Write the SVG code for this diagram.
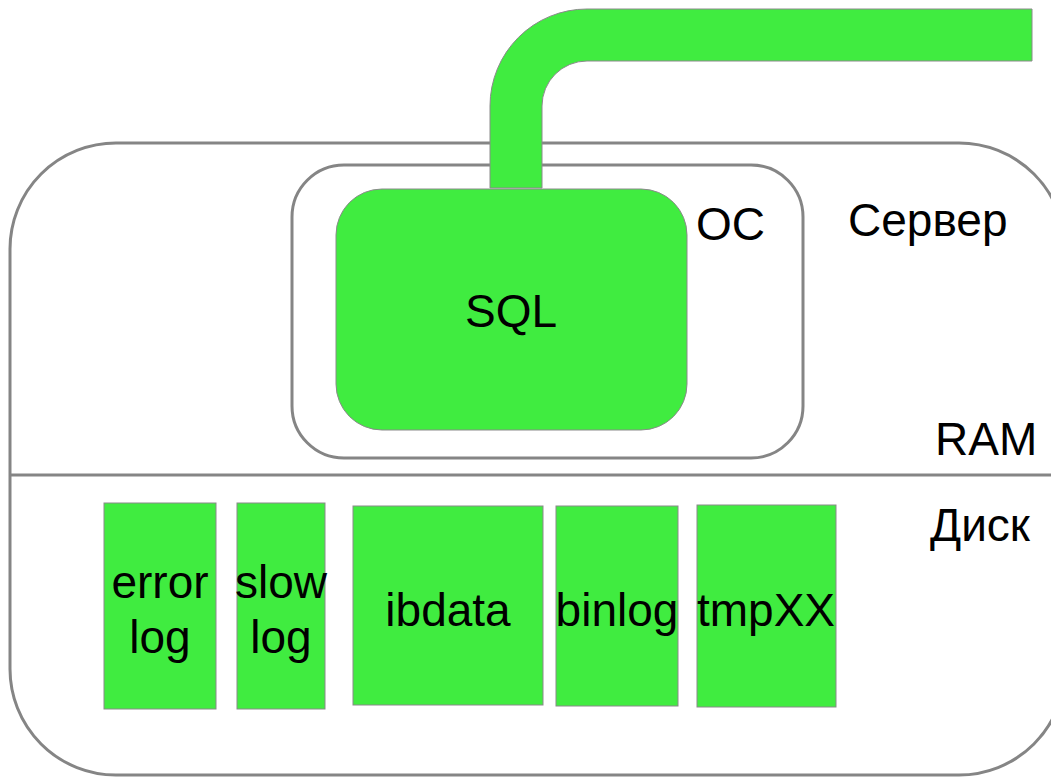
<svg xmlns="http://www.w3.org/2000/svg" width="1051" height="777" viewBox="0 0 1051 777">
  <style>
    .frame { fill: none; stroke: #858585; stroke-width: 3; }
    .block { fill: #40ec40; stroke: #8a8a8a; stroke-width: 1; }
    .lbl { font-family: "Liberation Sans", Arial, sans-serif; font-size: 46px; fill: #000; }
    .mid { text-anchor: middle; }
  </style>
  <rect width="1051" height="777" fill="#ffffff"/>

  <!-- server enclosure, split into RAM and disk areas -->
  <g id="server">
    <rect class="frame" x="10" y="143" width="1055" height="632" rx="106" ry="106"/>
    <line class="frame" x1="10" y1="475" x2="1051" y2="475"/>
    <text class="lbl" x="848" y="236">Сервер</text>
    <text class="lbl" x="935" y="455">RAM</text>
    <text class="lbl" x="930" y="541">Диск</text>
  </g>

  <!-- operating system -->
  <g id="os">
    <rect class="frame" x="292" y="165" width="511" height="293" rx="52" ry="52"/>
    <text class="lbl" x="696" y="240">OC</text>
  </g>

  <!-- network link into the database process -->
  <g id="connectors">
    <path class="block" d="M490,188 L490,106 A97,97 0 0 1 587,9 L1032,9 L1032,61 L587,61 A45,45 0 0 0 542,106 L542,188 Z"/>
  </g>

  <g id="sql">
    <rect class="block" x="336" y="189" width="351" height="241" rx="46" ry="46"/>
    <text class="lbl mid" x="511" y="327">SQL</text>
  </g>

  <!-- files on disk -->
  <g id="errorlog">
    <rect class="block" x="104" y="503" width="112" height="206"/>
    <text class="lbl mid" x="160" y="598">error</text>
    <text class="lbl mid" x="160" y="653">log</text>
  </g>
  <g id="slowlog">
    <rect class="block" x="237" y="503" width="88" height="206"/>
    <text class="lbl mid" x="281" y="598">slow</text>
    <text class="lbl mid" x="281" y="653">log</text>
  </g>
  <g id="ibdata">
    <rect class="block" x="353" y="506" width="190" height="199"/>
    <text class="lbl mid" x="448" y="626">ibdata</text>
  </g>
  <g id="binlog">
    <rect class="block" x="556" y="506" width="122" height="200"/>
    <text class="lbl mid" x="617" y="626">binlog</text>
  </g>
  <g id="tmpxx">
    <rect class="block" x="697" y="505" width="139" height="202"/>
    <text class="lbl mid" x="766" y="626">tmpXX</text>
  </g>
</svg>
